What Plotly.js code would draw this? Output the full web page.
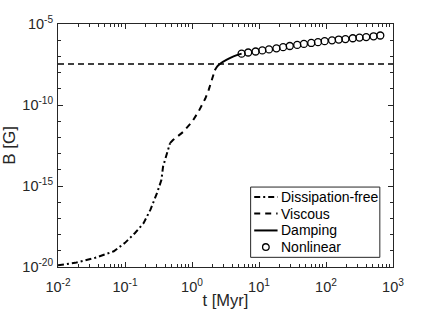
<!DOCTYPE html>
<html>
<head>
<meta charset="utf-8">
<script src="https://cdn.plot.ly/plotly-3.0.1.min.js"></script>
<style>html,body{margin:0;padding:0;background:#fff;}#chart{width:436px;height:309px;}</style>
</head>
<body>
<div id="chart"></div>
<script>
// Dissipation-free (dash-dot)
const tFree = [0.01, 0.018, 0.036, 0.068, 0.1, 0.141, 0.19, 0.24, 0.30, 0.35, 0.37, 0.47];
const bFree = [1.26e-20, 1.8e-20, 3.7e-20, 9.3e-20, 3.1e-19, 1.26e-18, 5.2e-18, 3.5e-17, 3.6e-16, 2.4e-15, 1.6e-14, 4.4e-13];
// Viscous (dashed)
const tVisc = [0.47, 0.52, 0.74, 1.0, 1.245, 1.58, 1.78, 2.0, 2.19];
const bVisc = [4.4e-13, 6.9e-13, 2.2e-12, 9.1e-12, 3.8e-11, 2.5e-10, 8.9e-10, 4.0e-9, 1.38e-8];
// Damping (solid)
const tDamp = [2.19, 2.4, 2.63, 3.31, 4.17, 5.5];
const bDamp = [1.38e-8, 2.5e-8, 3.55e-8, 6.3e-8, 1.0e-7, 1.48e-7];
// Nonlinear (open circles)
const tNon = [5.5, 6.9, 8.9, 11.2, 14.1, 18.2, 22.9, 28.8, 37.2, 46.8, 60.3, 75.9, 95.5, 123, 155, 195, 251, 316, 398, 513, 646];
const bNon = [1.48e-7, 1.74e-7, 2.0e-7, 2.34e-7, 2.69e-7, 3.16e-7, 3.72e-7, 4.37e-7, 5.13e-7, 5.89e-7, 6.76e-7, 7.59e-7, 8.71e-7, 9.77e-7, 1.10e-6, 1.17e-6, 1.32e-6, 1.45e-6, 1.55e-6, 1.74e-6, 1.95e-6];
// Horizontal reference level
const refX = [0.01, 1000];
const refB = [3.4e-8, 3.4e-8];

// Tick labels
const xTickVals = [1e-2, 1e-1, 1e0, 1e1, 1e2, 1e3];
const xTickText = ['10<sup>-2</sup>', '10<sup>-1</sup>', '10<sup>0</sup>', '10<sup>1</sup>', '10<sup>2</sup>', '10<sup>3</sup>'];
const yTickVals = [1e-20, 1e-15, 1e-10, 1e-5];
const yTickText = ['10<sup>-20</sup>', '10<sup>-15</sup>', '10<sup>-10</sup>', '10<sup>-5</sup>'];

const names = ['Dissipation-free', 'Viscous', 'Damping', 'Nonlinear'];
const ink = '#000000';
const axisInk = '#262626';
const FONT = 'Liberation Sans, Arial, Helvetica, sans-serif';

const dashFree = '6px,3px,2px,3px';
const dashVisc = '6px,5px';

const traces = [
  {x: refX, y: refB, mode: 'lines', showlegend: false, hoverinfo: 'skip',
   line: {color: ink, width: 1.3, dash: '6px,4px'}},
  {x: tFree, y: bFree, mode: 'lines', name: names[0], showlegend: false,
   line: {color: ink, width: 2, dash: dashFree}},
  {x: tVisc, y: bVisc, mode: 'lines', name: names[1], showlegend: false,
   line: {color: ink, width: 2, dash: dashVisc}},
  {x: tDamp, y: bDamp, mode: 'lines', name: names[2], showlegend: false,
   line: {color: ink, width: 2, shape: 'spline'}},
  {x: tNon, y: bNon, mode: 'markers', name: names[3], showlegend: false,
   marker: {symbol: 'circle-open', size: 7, color: ink, line: {width: 1.3, color: ink}}}
];

const axisCommon = {
  type: 'log', showgrid: false, zeroline: false,
  showline: true, linecolor: axisInk, linewidth: 1, mirror: 'allticks',
  ticks: 'inside', ticklen: 5, tickcolor: axisInk, tickwidth: 1,
  tickmode: 'array',
  tickfont: {family: FONT, size: 14.5, color: axisInk}
};

// Legend drawn in paper coordinates (box, samples, labels)
const legBox = {x0: 0.575, x1: 0.9607, y0: 0.0398, y1: 0.329};
const legRowsY = [0.2881, 0.2201, 0.1504, 0.0820];
const legLineX = [0.5857, 0.6554];
const legMarkX = 0.6205;
const legTextX = 0.6592;

const shapes = [
  {type: 'rect', xref: 'paper', yref: 'paper', x0: legBox.x0, x1: legBox.x1, y0: legBox.y0, y1: legBox.y1,
   line: {color: axisInk, width: 1}, fillcolor: '#ffffff', layer: 'above'},
  {type: 'line', xref: 'paper', yref: 'paper', x0: legLineX[0], x1: legLineX[1], y0: legRowsY[0], y1: legRowsY[0],
   line: {color: ink, width: 2, dash: dashFree}, layer: 'above'},
  {type: 'line', xref: 'paper', yref: 'paper', x0: legLineX[0], x1: legLineX[1], y0: legRowsY[1], y1: legRowsY[1],
   line: {color: ink, width: 2, dash: dashVisc}, layer: 'above'},
  {type: 'line', xref: 'paper', yref: 'paper', x0: legLineX[0], x1: legLineX[1], y0: legRowsY[2], y1: legRowsY[2],
   line: {color: ink, width: 2}, layer: 'above'},
  {type: 'circle', xref: 'paper', yref: 'paper', xsizemode: 'pixel', ysizemode: 'pixel',
   xanchor: legMarkX, yanchor: legRowsY[3], x0: -3.3, x1: 3.3, y0: -3.3, y1: 3.3,
   line: {color: ink, width: 1.3}, layer: 'above'}
];

const annotations = names.map((n, i) => ({
  text: n, xref: 'paper', yref: 'paper', x: legTextX, y: legRowsY[i],
  xanchor: 'left', yanchor: 'middle', showarrow: false,
  font: {family: FONT, size: 14, color: '#000'}
}));

const layout = {
  width: 436, height: 309,
  margin: {l: 57.5, r: 43, t: 23.5, b: 42},
  paper_bgcolor: '#ffffff', plot_bgcolor: '#ffffff',
  font: {family: FONT, color: axisInk},
  showlegend: false,
  xaxis: Object.assign({}, axisCommon, {
    range: [-2, 3], tickvals: xTickVals, ticktext: xTickText,
    ticklabelstandoff: 7,
    minor: {ticks: 'inside', ticklen: 3, tickcolor: axisInk, tickwidth: 1, showgrid: false, dtick: 'D1'},
    title: {text: 't [Myr]', font: {family: FONT, size: 16.5, color: axisInk}, standoff: 0}
  }),
  yaxis: Object.assign({}, axisCommon, {
    range: [-20, -5], tickvals: yTickVals, ticktext: yTickText,
    ticklabelstandoff: 1,
    minor: {ticks: 'inside', ticklen: 3, tickcolor: axisInk, tickwidth: 1, showgrid: false, dtick: 1},
    title: {text: 'B [G]', font: {family: FONT, size: 17, color: axisInk}, standoff: 4}
  }),
  shapes: shapes,
  annotations: annotations
};

Plotly.newPlot('chart', traces, layout, {staticPlot: true, displayModeBar: false});
</script>
</body>
</html>
